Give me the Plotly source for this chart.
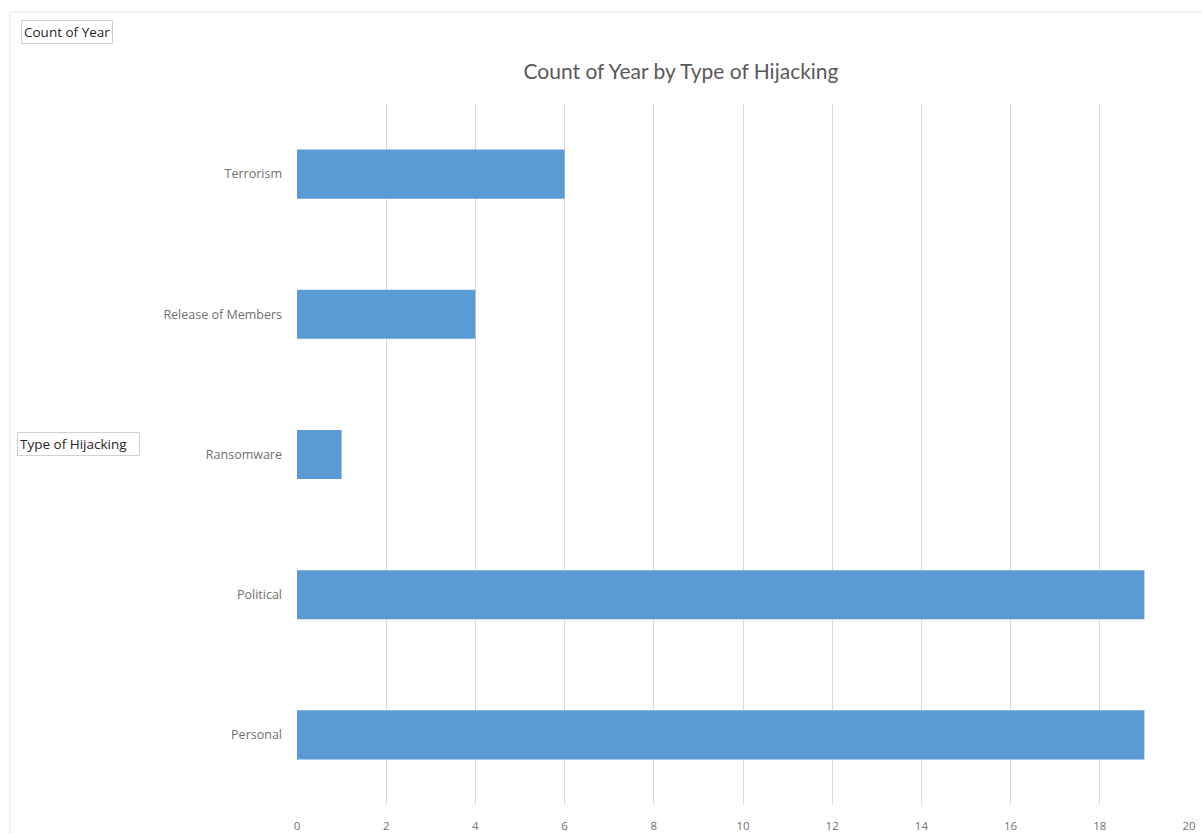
import plotly.graph_objects as go

categories = ["Personal", "Political", "Ransomware", "Release of Members", "Terrorism"]
counts = [19, 19, 1, 4, 6]
x_ticks = [0, 2, 4, 6, 8, 10, 12, 14, 16, 18, 20]

W, H = 1202, 834
L, R, T, B = 297, 13, 104, 29
pw, ph = W - L - R, H - T - B

def px_x(p):
    return (p - L) / pw

def px_y(p):
    return (H - B - p) / ph

fig = go.Figure(go.Bar(
    y=categories, x=counts, orientation="h",
    marker=dict(color="#5B9BD5", line=dict(width=0)),
))

fig.update_layout(
    width=W, height=H,
    margin=dict(l=L, r=R, t=T, b=B, autoexpand=False),
    paper_bgcolor="white", plot_bgcolor="white",
    font=dict(family="Open Sans, sans-serif", color="#595959"),
    title=dict(text="Count of Year by Type of Hijacking", x=681 / W, xanchor="center",
               y=1 - 72 / H, yanchor="middle", xref="container", yref="container",
               font=dict(family="Lato, sans-serif", size=21, color="#595959")),
    showlegend=False,
    bargap=0.65,
)
fig.update_xaxes(range=[0, 20], tickvals=x_ticks, showgrid=True, gridcolor="#D9D9D9",
                 gridwidth=1, zeroline=False, showline=False, ticks="", automargin=False,
                 tickfont=dict(size=11.5, color="#707070"), ticklabelstandoff=12)
fig.update_yaxes(showgrid=False, showline=False, ticks="", categoryorder="array", automargin=False,
                 categoryarray=categories, tickfont=dict(size=12.5, color="#707070"),
                 ticklabelstandoff=14)

# outer chart frame (left and top edges)
fig.add_shape(type="line", xref="paper", yref="paper", x0=px_x(10), x1=px_x(1202),
              y0=px_y(12), y1=px_y(12), line=dict(color="#E3E3E3", width=1))
fig.add_shape(type="line", xref="paper", yref="paper", x0=px_x(10), x1=px_x(10),
              y0=px_y(12), y1=px_y(834), line=dict(color="#E3E3E3", width=1))

# pivot field buttons
fig.add_annotation(text="Count of Year", xref="paper", yref="paper", x=px_x(21), y=px_y(32),
                   xanchor="left", yanchor="middle", showarrow=False,
                   font=dict(size=13.5, color="#262626"), bgcolor="white",
                   bordercolor="#D0D0D0", borderwidth=1, borderpad=2)
fig.add_annotation(text="Type of Hijacking&nbsp;&nbsp;&nbsp;", xref="paper", yref="paper", x=px_x(17), y=px_y(444),
                   xanchor="left", yanchor="middle", showarrow=False,
                   font=dict(size=13.5, color="#262626"), bgcolor="white",
                   bordercolor="#D0D0D0", borderwidth=1, borderpad=2)

fig.write_html("out.html")
